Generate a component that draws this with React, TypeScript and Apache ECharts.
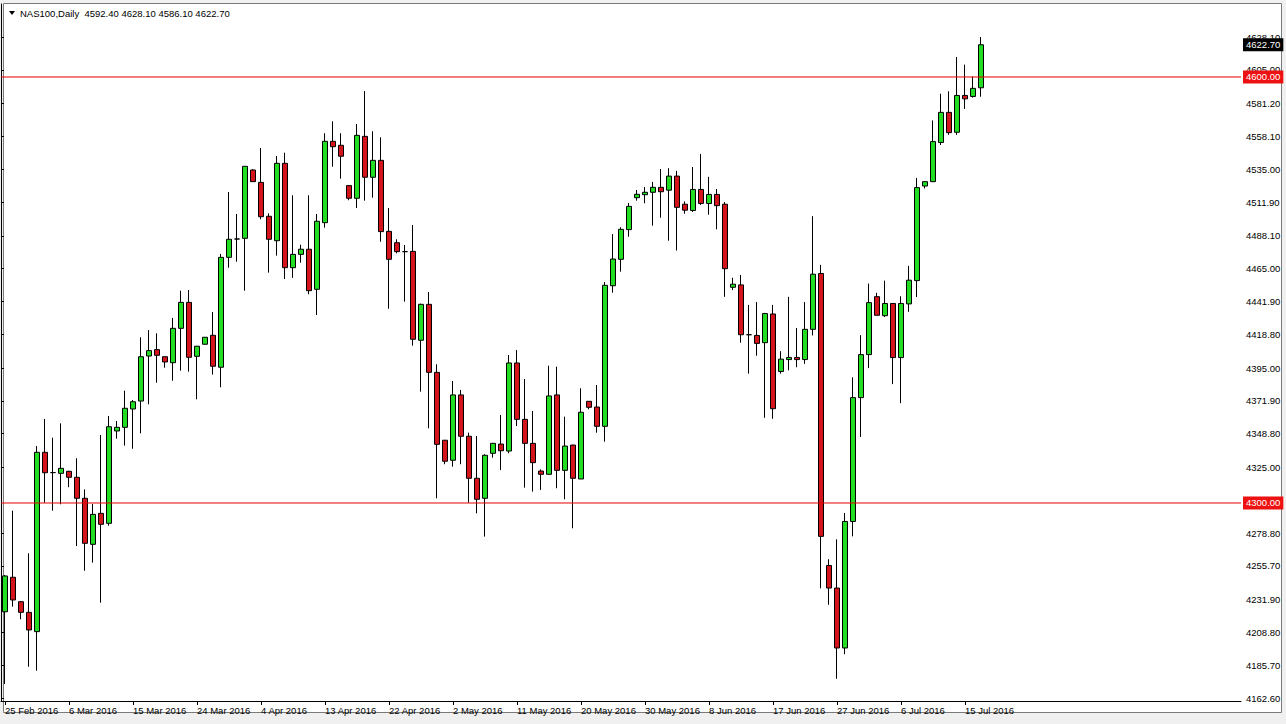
import { useEffect, useRef } from "react";
import * as echarts from "echarts";

const dates = [
  "25 Feb 2016","26 Feb 2016","28 Feb 2016","29 Feb 2016","1 Mar 2016","2 Mar 2016","3 Mar 2016","4 Mar 2016",
  "6 Mar 2016","7 Mar 2016","8 Mar 2016","9 Mar 2016","10 Mar 2016","11 Mar 2016","13 Mar 2016","14 Mar 2016",
  "15 Mar 2016","16 Mar 2016","17 Mar 2016","18 Mar 2016","20 Mar 2016","21 Mar 2016","22 Mar 2016","23 Mar 2016",
  "24 Mar 2016","27 Mar 2016","28 Mar 2016","29 Mar 2016","30 Mar 2016","31 Mar 2016","1 Apr 2016","3 Apr 2016",
  "4 Apr 2016","5 Apr 2016","6 Apr 2016","7 Apr 2016","8 Apr 2016","10 Apr 2016","11 Apr 2016","12 Apr 2016",
  "13 Apr 2016","14 Apr 2016","15 Apr 2016","17 Apr 2016","18 Apr 2016","19 Apr 2016","20 Apr 2016","21 Apr 2016",
  "22 Apr 2016","24 Apr 2016","25 Apr 2016","26 Apr 2016","27 Apr 2016","28 Apr 2016","29 Apr 2016","1 May 2016",
  "2 May 2016","3 May 2016","4 May 2016","5 May 2016","6 May 2016","8 May 2016","9 May 2016","10 May 2016",
  "11 May 2016","12 May 2016","13 May 2016","15 May 2016","16 May 2016","17 May 2016","18 May 2016","19 May 2016",
  "20 May 2016","22 May 2016","23 May 2016","24 May 2016","25 May 2016","26 May 2016","27 May 2016","29 May 2016",
  "30 May 2016","31 May 2016","1 Jun 2016","2 Jun 2016","3 Jun 2016","5 Jun 2016","6 Jun 2016","7 Jun 2016",
  "8 Jun 2016","9 Jun 2016","10 Jun 2016","12 Jun 2016","13 Jun 2016","14 Jun 2016","15 Jun 2016","16 Jun 2016",
  "17 Jun 2016","19 Jun 2016","20 Jun 2016","21 Jun 2016","22 Jun 2016","23 Jun 2016","24 Jun 2016","26 Jun 2016",
  "27 Jun 2016","28 Jun 2016","29 Jun 2016","30 Jun 2016","1 Jul 2016","3 Jul 2016","4 Jul 2016","5 Jul 2016",
  "6 Jul 2016","7 Jul 2016","8 Jul 2016","10 Jul 2016","11 Jul 2016","12 Jul 2016","13 Jul 2016","14 Jul 2016",
  "15 Jul 2016","17 Jul 2016","18 Jul 2016",
];

const opens = [
  4223.4, 4247.7, 4230.5, 4223.0, 4209.4, 4335.7, 4321.4, 4320.9, 4322.3, 4318.1,
  4303.3, 4270.9, 4292.7, 4285.7, 4350.7, 4353.3, 4366.2, 4371.8, 4403.5, 4408.0,
  4403.0, 4398.8, 4423.0, 4441.3, 4403.3, 4411.8, 4418.1, 4395.6, 4473.0, 4485.9,
  4486.4, 4534.5, 4525.8, 4501.9, 4484.7, 4539.2, 4465.7, 4475.1, 4478.7, 4450.5,
  4497.4, 4554.7, 4551.9, 4523.5, 4514.6, 4558.2, 4529.4, 4541.3, 4491.3, 4483.3,
  4477.0, 4477.2, 4414.6, 4439.9, 4392.0, 4344.2, 4330.1, 4376.1, 4347.0, 4317.4,
  4303.3, 4335.0, 4341.5, 4336.6, 4398.6, 4358.9, 4342.0, 4322.5, 4320.2, 4376.1,
  4323.0, 4340.8, 4316.9, 4371.6, 4367.6, 4354.0, 4453.0, 4471.6, 4492.5, 4515.0,
  4517.1, 4518.8, 4522.3, 4520.3, 4530.2, 4510.4, 4506.0, 4520.8, 4510.9, 4517.3,
  4510.4, 4451.9, 4453.6, 4418.5, 4418.0, 4412.9, 4433.1, 4392.6, 4401.0, 4402.5,
  4401.0, 4422.3, 4461.6, 4256.0, 4240.1, 4197.9, 4287.0, 4374.2, 4404.5, 4445.3,
  4431.9, 4440.5, 4402.4, 4440.2, 4456.6, 4523.2, 4526.3, 4553.9, 4575.1, 4561.1,
  4587.0, 4586.3, 4592.4,
];

const closes = [
  4248.6, 4231.7, 4223.0, 4210.6, 4335.7, 4321.3, 4321.4, 4324.4, 4318.1, 4303.3,
  4271.6, 4292.0, 4285.0, 4353.7, 4353.3, 4366.7, 4371.3, 4403.0, 4407.3, 4404.0,
  4399.3, 4423.0, 4441.3, 4402.6, 4410.4, 4416.7, 4396.3, 4473.0, 4485.7, 4485.9,
  4537.1, 4526.3, 4501.6, 4485.7, 4539.2, 4465.7, 4475.1, 4478.7, 4449.5, 4498.4,
  4554.7, 4550.9, 4544.2, 4514.6, 4558.9, 4529.4, 4541.3, 4491.1, 4471.6, 4477.0,
  4477.0, 4415.3, 4439.9, 4392.0, 4341.3, 4329.4, 4376.1, 4347.0, 4317.4, 4302.6,
  4333.6, 4342.0, 4336.8, 4398.6, 4358.9, 4342.0, 4328.4, 4320.2, 4375.4, 4323.0,
  4340.1, 4317.4, 4363.9, 4367.4, 4354.0, 4453.3, 4471.8, 4492.7, 4508.9, 4517.4,
  4518.8, 4522.3, 4519.2, 4530.2, 4508.2, 4506.2, 4520.8, 4510.9, 4517.3, 4509.4,
  4465.0, 4454.1, 4418.5, 4418.5, 4412.4, 4433.4, 4366.4, 4401.3, 4402.5, 4401.0,
  4422.3, 4461.1, 4276.5, 4240.1, 4197.9, 4287.0, 4374.2, 4404.5, 4441.1, 4432.2,
  4440.5, 4402.4, 4440.5, 4456.9, 4522.1, 4526.3, 4554.5, 4575.1, 4560.8, 4587.0,
  4584.6, 4592.0, 4622.7,
];

const lows = [
  4172.5, 4227.0, 4218.1, 4184.7, 4181.9, 4300.2, 4294.6, 4299.1, 4311.1, 4269.7,
  4252.3, 4258.0, 4229.8, 4284.0, 4345.3, 4340.4, 4338.2, 4349.1, 4369.5, 4384.7,
  4395.3, 4386.1, 4393.2, 4392.5, 4373.0, 4411.5, 4390.4, 4381.5, 4465.7, 4469.9,
  4449.5, 4526.3, 4499.8, 4462.2, 4474.2, 4457.7, 4458.5, 4469.2, 4447.0, 4432.4,
  4493.9, 4536.8, 4528.4, 4513.2, 4507.7, 4512.9, 4515.0, 4484.0, 4436.8, 4475.8,
  4441.8, 4410.8, 4378.4, 4352.6, 4303.3, 4327.3, 4325.6, 4327.3, 4300.2, 4292.7,
  4276.3, 4331.9, 4323.2, 4335.0, 4354.2, 4310.8, 4308.0, 4309.2, 4320.0, 4310.4,
  4302.6, 4282.2, 4316.9, 4366.0, 4349.5, 4343.2, 4448.1, 4462.9, 4487.5, 4512.9,
  4511.1, 4495.3, 4500.9, 4484.7, 4477.8, 4503.7, 4505.0, 4509.9, 4503.0, 4492.7,
  4445.2, 4449.9, 4412.9, 4391.1, 4403.7, 4360.0, 4359.3, 4391.1, 4393.4, 4395.6,
  4398.0, 4418.0, 4239.9, 4228.3, 4176.2, 4193.5, 4276.5, 4346.5, 4395.0, 4432.2,
  4431.0, 4383.7, 4370.3, 4434.6, 4445.0, 4521.5, 4526.0, 4552.1, 4559.3, 4559.3,
  4577.5, 4585.5, 4586.1,
];

const highs = [
  4249.3, 4294.6, 4231.0, 4264.6, 4340.1, 4359.2, 4346.0, 4356.1, 4322.7, 4331.5,
  4309.6, 4299.3, 4347.9, 4361.3, 4357.7, 4379.1, 4372.5, 4416.7, 4421.8, 4419.5,
  4403.0, 4430.3, 4449.5, 4450.0, 4410.6, 4416.9, 4434.5, 4475.4, 4519.0, 4503.5,
  4537.3, 4535.0, 4550.0, 4504.0, 4544.4, 4546.7, 4516.7, 4481.9, 4516.7, 4503.5,
  4560.4, 4568.8, 4560.4, 4523.5, 4566.9, 4590.1, 4561.8, 4557.5, 4507.7, 4485.7,
  4481.7, 4495.8, 4440.4, 4448.6, 4397.7, 4344.2, 4385.9, 4379.6, 4349.5, 4347.2,
  4334.3, 4342.3, 4362.0, 4404.2, 4407.7, 4387.3, 4364.8, 4323.7, 4396.7, 4396.0,
  4360.8, 4341.0, 4380.8, 4371.6, 4383.1, 4455.6, 4489.4, 4494.2, 4511.3, 4520.4,
  4522.5, 4526.1, 4535.2, 4535.8, 4533.9, 4512.4, 4536.6, 4545.8, 4529.7, 4521.1,
  4511.9, 4458.6, 4460.6, 4439.5, 4441.5, 4433.9, 4439.5, 4406.9, 4445.2, 4423.2,
  4441.5, 4502.0, 4467.7, 4260.4, 4274.4, 4293.0, 4388.5, 4418.2, 4454.5, 4448.0,
  4456.6, 4440.5, 4445.6, 4467.0, 4528.9, 4526.3, 4569.4, 4588.2, 4589.9, 4614.1,
  4608.7, 4600.4, 4628.1,
];

const levelLines = [4600, 4300];
const yTickValues = [
  4162.6, 4185.7, 4208.8, 4231.9, 4255.7, 4278.8, 4325.0, 4348.8, 4371.9, 4395.0,
  4418.8, 4441.9, 4465.0, 4488.1, 4511.9, 4535.0, 4558.1, 4581.2, 4605.0, 4628.1,
];
const symbolName = "NAS100,Daily";

const FONT = "'Liberation Sans', Arial, sans-serif";
const FS = 9.5;
const TOTAL_SLOTS = 155;
const LABEL_EVERY = 8;
const LEVEL_RED = "#e60000";

export default function App() {
  const ref = useRef<HTMLDivElement>(null);

  useEffect(() => {
    document.body.style.margin = "0";
    const chart = echarts.init(ref.current!, null, { renderer: "svg" });

    const n = dates.length;
    const categories = dates.concat(
      Array.from({ length: TOTAL_SLOTS - n }, (_, i) => "pad" + i)
    );
    const candles = dates.map((_, i) => [opens[i], closes[i], lows[i], highs[i]]);
    const last = n - 1;
    const titleText =
      symbolName +
      "  " +
      [opens[last], highs[last], lows[last], closes[last]].map((v) => v.toFixed(2)).join(" ");

    const showIdx = (i: number) => i % LABEL_EVERY === 0 && i < n;

    const priceLabel = (text: string, bg: string) => ({
      show: true,
      position: "end",
      distance: 2,
      formatter: text,
      color: "#fff",
      backgroundColor: bg,
      padding: [2, 3, 1, 3],
      fontSize: FS,
      fontFamily: FONT,
    });

    const levelSeries = levelLines.map((v) => ({
      type: "line",
      xAxisIndex: 1,
      yAxisIndex: 0,
      data: [
        [0, v],
        [1, v],
      ],
      symbol: "none",
      showSymbol: false,
      silent: true,
      z: 3,
      lineStyle: { color: LEVEL_RED, width: 1, type: "solid" },
      itemStyle: { color: LEVEL_RED },
    }));

    const option: any = {
      animation: false,
      backgroundColor: "#f0f0f0",
      graphic: [
        {
          type: "rect",
          z: -10,
          shape: { x: 3.5, y: 3.5, width: 1278, height: 709 },
          style: { fill: "#ffffff", stroke: "#7a7a7a", lineWidth: 1 },
          silent: true,
        },
        {
          type: "polygon",
          z: 10,
          shape: { points: [[9, 11], [15, 11], [12, 15]] },
          style: { fill: "#000" },
          silent: true,
        },
        {
          type: "text",
          z: 10,
          x: 20,
          y: 13,
          style: {
            text: titleText,
            fill: "#000",
            font: `${FS}px ${FONT}`,
            textVerticalAlign: "middle",
          },
          silent: true,
        },
      ],
      grid: { left: 1, right: 45, top: 4, bottom: 23, containLabel: false },
      xAxis: [
        {
          type: "category",
          data: categories,
          boundaryGap: true,
          axisLine: { show: true, lineStyle: { color: "#000", width: 1 } },
          axisTick: {
            show: true,
            alignWithLabel: true,
            interval: (i: number) => showIdx(i),
            length: 4,
            lineStyle: { color: "#000" },
          },
          axisLabel: {
            show: true,
            interval: (i: number) => showIdx(i),
            align: "left",
            margin: 4,
            color: "#000",
            fontSize: FS,
            fontFamily: FONT,
            formatter: (v: string) => (v.startsWith("pad") ? "" : v),
          },
          splitLine: { show: false },
        },
        {
          type: "value",
          min: 0,
          max: 1,
          show: false,
          position: "top",
        },
      ],
      yAxis: {
        type: "value",
        position: "right",
        min: 4160.56,
        max: 4651.4,
        scale: true,
        splitLine: { show: false },
        axisLine: { show: true, lineStyle: { color: "#000", width: 1 } },
        axisTick: {
          show: true,
          length: 3,
          customValues: yTickValues,
          lineStyle: { color: "#000" },
        },
        axisLabel: {
          show: true,
          customValues: yTickValues,
          formatter: (v: number) => v.toFixed(2),
          color: "#000",
          fontSize: FS,
          fontFamily: FONT,
          margin: 5,
        },
      },
      series: [
        {
          type: "candlestick",
          data: candles,
          barWidth: 5,
          z: 2,
          itemStyle: {
            color: "#22dd22",
            color0: "#d4141c",
            borderColor: "#000",
            borderColor0: "#000",
            borderColorDoji: "#000",
            borderWidth: 1,
          },
        },
        ...levelSeries,
        {
          type: "line",
          data: [],
          showSymbol: false,
          color: "rgba(0,0,0,0)",
          z: 5,
          markLine: {
            silent: true,
            symbol: ["none", "none"],
            animation: false,
            lineStyle: { color: "rgba(0,0,0,0)", width: 0, type: "solid" },
            data: [
              ...levelLines.map((v) => ({
                yAxis: v,
                label: priceLabel(v.toFixed(2), "#ee1111"),
              })),
              {
                yAxis: closes[last],
                label: priceLabel(closes[last].toFixed(2), "#000"),
              },
            ],
          },
        },
      ],
    };

    chart.setOption(option);
    return () => chart.dispose();
  }, []);

  return (
    <div
      ref={ref}
      style={{ position: "fixed", left: 0, top: 0, width: 1286, height: 724 }}
    />
  );
}
